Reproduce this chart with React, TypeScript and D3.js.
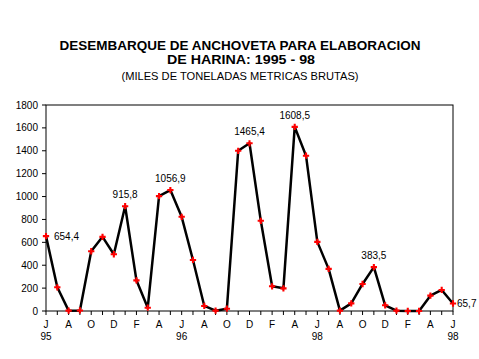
import * as d3 from "d3";

// Monthly landings, Jun 1995 - Jun 1998 (thousand metric tons)
const values = [
  654.4, 207, 3, 5, 522, 648, 496, 915.8, 268, 29, 1004, 1056.9,
  823, 446, 44, 3, 20, 1400, 1465.4, 788, 216, 198, 1608.5, 1357,
  604, 368, 3, 67, 236, 383.5, 50, 3, 0, 0, 134, 184, 65.7,
];

const monthLabels = [
  "J", "A", "O", "D", "F", "A", "J", "A", "O", "D", "F", "A", "J", "A", "O", "D", "F", "A", "J",
];

// year labels under some months (index in values)
const yearLabels = [
  { i: 0, t: "95" },
  { i: 12, t: "96" },
  { i: 24, t: "98" },
  { i: 36, t: "98" },
];

// values that get a label, and on which side
const annotated = [
  { i: 0, t: "654,4", side: "right" },
  { i: 7, t: "915,8", side: "top" },
  { i: 11, t: "1056,9", side: "top" },
  { i: 18, t: "1465,4", side: "top" },
  { i: 22, t: "1608,5", side: "top" },
  { i: 29, t: "383,5", side: "top" },
  { i: 36, t: "65,7", side: "right" },
];

const yTicks = [0, 200, 400, 600, 800, 1000, 1200, 1400, 1600, 1800];

const App = () => {
  const width = 479;
  const height = 359;
  const left = 46;
  const right = 453;
  const top = 105;
  const bottom = 311;
  const font = "'Liberation Sans', Arial, sans-serif";

  const x = d3.scaleLinear().domain([0, values.length - 1]).range([left, right]);
  const y = d3.scaleLinear().domain([0, 1800]).range([bottom, top]);

  const line = d3
    .line<number>()
    .x((d, i) => x(i))
    .y(d => y(d));

  const cross = d3.symbol().type(d3.symbolCross).size(22);

  return (
    <svg
      width={width}
      height={height}
      style={{ position: "absolute", left: 0, top: 0, background: "#fff" }}
      fontFamily={font}
    >
      <rect width={width} height={height} fill="#fff" />

      <g textAnchor="middle" fill="#000">
        <text x={240} y={49.5} fontSize={13} fontWeight="bold" textLength={361} lengthAdjust="spacingAndGlyphs">
          DESEMBARQUE DE ANCHOVETA PARA ELABORACION
        </text>
        <text x={241} y={64} fontSize={13} fontWeight="bold" textLength={148} lengthAdjust="spacingAndGlyphs">
          DE HARINA: 1995 - 98
        </text>
        <text x={240} y={80} fontSize={10.5} textLength={237} lengthAdjust="spacingAndGlyphs">
          (MILES  DE TONELADAS METRICAS BRUTAS)
        </text>
      </g>

      {/* plot frame */}
      <rect x={left} y={top} width={right - left} height={bottom - top} fill="none" stroke="#000" strokeWidth={1} />

      {/* y axis */}
      {yTicks.map(t => (
        <g key={t}>
          <line x1={left - 4} x2={left} y1={y(t)} y2={y(t)} stroke="#000" />
          <text x={38} y={y(t) + 3.5} fontSize={10} textAnchor="end">
            {t}
          </text>
        </g>
      ))}

      {/* x axis minor ticks */}
      {values.map((d, i) => (
        <line key={i} x1={x(i)} x2={x(i)} y1={bottom} y2={bottom + 4} stroke="#000" />
      ))}
      {monthLabels.map((m, k) => (
        <text key={k} x={x(k * 2)} y={328} fontSize={10} textAnchor="middle">
          {m}
        </text>
      ))}
      {yearLabels.map(d => (
        <text key={d.i} x={x(d.i)} y={340} fontSize={10} textAnchor="middle">
          {d.t}
        </text>
      ))}

      <path d={line(values) ?? ""} fill="none" stroke="#000" strokeWidth={2.5} strokeLinejoin="round" />

      {values.map((d, i) => (
        <path key={i} d={cross() ?? ""} transform={`translate(${x(i)},${y(d)})`} fill="#ff0000" />
      ))}

      {annotated.map(a => (
        <text
          key={a.i}
          x={a.side === "right" ? x(a.i) + (a.i === 0 ? 8 : 4) : x(a.i)}
          y={a.side === "right" ? y(values[a.i]) + 4 : y(values[a.i]) - 8}
          fontSize={10}
          textAnchor={a.side === "right" ? "start" : "middle"}
        >
          {a.t}
        </text>
      ))}
    </svg>
  );
};

export default App;
